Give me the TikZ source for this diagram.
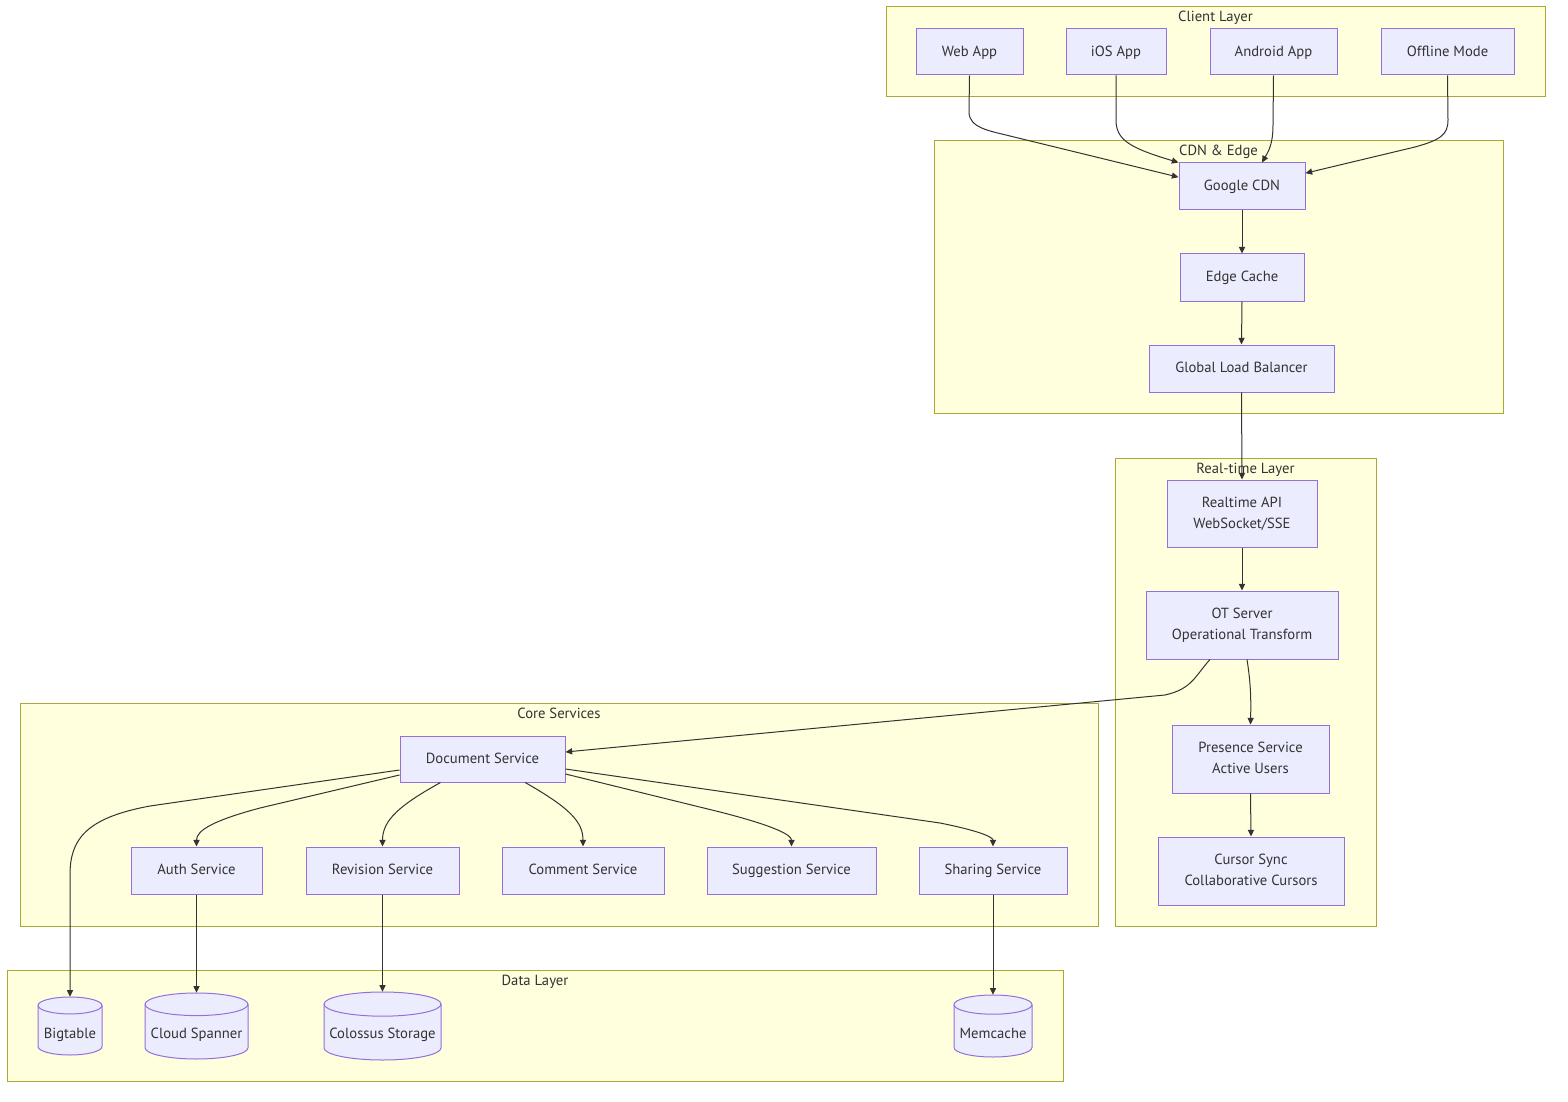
\documentclass[tikz,border=0pt]{standalone}
\usepackage{fontspec}
\setmainfont{PT Sans}
\usetikzlibrary{arrows.meta}
\definecolor{clfill}{HTML}{FFFFDE}
\definecolor{clline}{HTML}{AAAA33}
\definecolor{ndfill}{HTML}{ECECFF}
\definecolor{ndline}{HTML}{9370DB}
\definecolor{txt}{HTML}{333333}
\tikzset{
  cluster/.style={fill=clfill, draw=clline, line width=0.75pt},
  cltitle/.style={anchor=base, inner sep=0pt, text=txt, font=\fontsize{11}{15.75}\selectfont},
  box/.style={rectangle, fill=ndfill, draw=ndline, line width=0.75pt, inner sep=0pt, align=center, text=txt, font=\fontsize{11}{15.75}\selectfont},
  cylbody/.style={fill=ndfill, draw=ndline, line width=0.75pt},
  cylarea/.style={rectangle, inner sep=0pt, draw=none},
  cyltext/.style={inner sep=0pt, text=txt, font=\fontsize{11}{15.75}\selectfont},
  edge/.style={draw=txt, line width=0.75pt, -{Triangle[length=5pt,width=4.6pt]}}
}
\newcommand\nl{\strut\\\strut}
\newcommand\mybox[6]{%
  \node[box, minimum width={(#4-#2)*0.75pt}, minimum height={(#5-#3)*0.75pt}] (#1) at ({(#2+#4)/2},{(#3+#5)/2}) {\strut #6\strut};}
\newcommand\mycyl[6]{%
  \pgfmathsetmacro\cylrx{(#4-#2)/2}%
  \pgfmathsetmacro\cylry{\cylrx/(2.5+(#4-#2)/50)}%
  \path[cylbody] (#2,#3+\cylry) -- (#2,#5-\cylry)
     arc[start angle=180, end angle=360, x radius=\cylrx*0.75pt, y radius=\cylry*0.75pt]
     -- (#4,#3+\cylry)
     arc[start angle=0, end angle=180, x radius=\cylrx*0.75pt, y radius=\cylry*0.75pt] -- cycle;
  \draw[cylbody, fill=none] (#2,#3+\cylry)
     arc[start angle=180, end angle=360, x radius=\cylrx*0.75pt, y radius=\cylry*0.75pt];
  \node[cylarea, minimum width={(#4-#2)*0.75pt}, minimum height={(#5-#3)*0.75pt}] (#1) at ({(#2+#4)/2},{(#3+#5)/2}) {};
  \node[cyltext] (#1-t) at ({(#2+#4)/2},1034.5) {\strut #6\strut};}
\newcommand\mycluster[6]{%
  \draw[cluster] (#2,#3) rectangle (#4,#5);
  \node[cltitle] (#1) at ({(#2+#4)/2},#3+15) {#6};}
\begin{document}
\begin{tikzpicture}[x=0.75pt, y=-0.75pt]
\useasboundingbox (0,0) rectangle (1568,1102);
% clusters
\mycluster{clientL}{886}{7}{1545}{97}{Client Layer}
\mycluster{cdnL}{934}{141}{1503}{413}{CDN \& Edge}
\mycluster{rtL}{1115}{458}{1376}{926}{Real-time Layer}
\mycluster{coreL}{20}{703}{1098}{926}{Core Services}
\mycluster{dataL}{7}{970}{1063}{1081}{Data Layer}
% nodes
\mybox{web}{916}{29}{1023}{75}{Web App}
\mybox{ios}{1066}{29}{1166}{75}{iOS App}
\mybox{android}{1210}{29}{1337}{75}{Android App}
\mybox{offline}{1381}{29}{1514}{75}{Offline Mode}
\mybox{cdn}{1179}{163}{1305}{210}{Google CDN}
\mybox{edgecache}{1180}{254}{1304}{301}{Edge Cache}
\mybox{glb}{1149}{345}{1334}{392}{Global Load Balancer}
\mybox{rapi}{1167}{480}{1317}{547}{Realtime API\nl WebSocket/SSE}
\mybox{ot}{1146}{591}{1338}{659}{OT Server\nl Operational Transform}
\mybox{presence}{1172}{725}{1329}{793}{Presence Service\nl Active Users}
\mybox{cursor}{1158}{837}{1344}{905}{Cursor Sync\nl Collaborative Cursors}
\mybox{doc}{400}{736}{565}{782}{Document Service}
\mybox{auth}{131}{847}{262}{894}{Auth Service}
\mybox{revision}{306}{847}{459}{894}{Revision Service}
\mybox{comment}{502}{847}{664}{894}{Comment Service}
\mybox{suggestion}{707}{847}{876}{894}{Suggestion Service}
\mybox{sharing}{919}{847}{1067}{894}{Sharing Service}
\mycyl{bigtable}{38}{997}{102}{1055}{Bigtable}
\mycyl{spanner}{145}{993}{248}{1059}{Cloud Spanner}
\mycyl{colossus}{324}{992}{441}{1060}{Colossus Storage}
\mycyl{memcache}{954}{995}{1032}{1057}{Memcache}
% edges: clients to CDN
\draw[edge] (web.south) -- (969,112) .. controls (969,128) and (990,131) .. (1010,136) -- ([yshift=7pt]cdn.west);
\draw[edge] (ios.south) -- (1116,120) .. controls (1116,140) and (1130,148) .. (cdn.north west);
\draw[edge] (android.south) -- (1273,125) .. controls (1273,145) and (1268,152) .. ([xshift=15pt]cdn.north);
\draw[edge] (offline.south) -- (1448,120) .. controls (1448,135) and (1440,140) .. (1415,147) -- ([yshift=10pt]cdn.east);
% CDN chain
\draw[edge] (cdn.south) -- (edgecache.north);
\draw[edge] (edgecache.south) -- (glb.north);
\draw[edge] (glb.south) -- (rapi.north);
\draw[edge] (rapi.south) -- (ot.north);
\draw[edge] ([xshift=3.75pt]ot.south) .. controls (1251,685) and (1251,700) .. (presence.north);
\draw[edge] ([xshift=-24pt]ot.south) .. controls (1195,676) and (1192,689) .. (1165,695) -- ([yshift=5.25pt]doc.east);
\draw[edge] (presence.south) -- (cursor.north);
% document service fan-out
\draw[edge] ([yshift=-8.25pt]doc.west) -- (150,806) .. controls (85,818) and (70,840) .. (70,875) -- (bigtable.north);
\draw[edge] ([yshift=-12pt]doc.west) -- (260,808) .. controls (215,820) and (196.5,830) .. (auth.north);
\draw[edge] ([xshift=-31.5pt]doc.south) .. controls (400,805) and (382.5,820) .. (revision.north);
\draw[edge] ([xshift=32pt]doc.south) .. controls (570,808) and (583,822) .. (comment.north);
\draw[edge] ([yshift=-11.25pt]doc.east) -- (720,812) .. controls (775,826) and (791.5,835) .. (suggestion.north);
\draw[edge] ([yshift=-7.5pt]doc.east) -- (940,823) .. controls (985,832) and (993,838) .. (sharing.north);
% to data layer
\draw[edge] (auth.south) -- (spanner.north);
\draw[edge] (revision.south) -- (colossus.north);
\draw[edge] (sharing.south) -- (memcache.north);
\end{tikzpicture}
\end{document}
